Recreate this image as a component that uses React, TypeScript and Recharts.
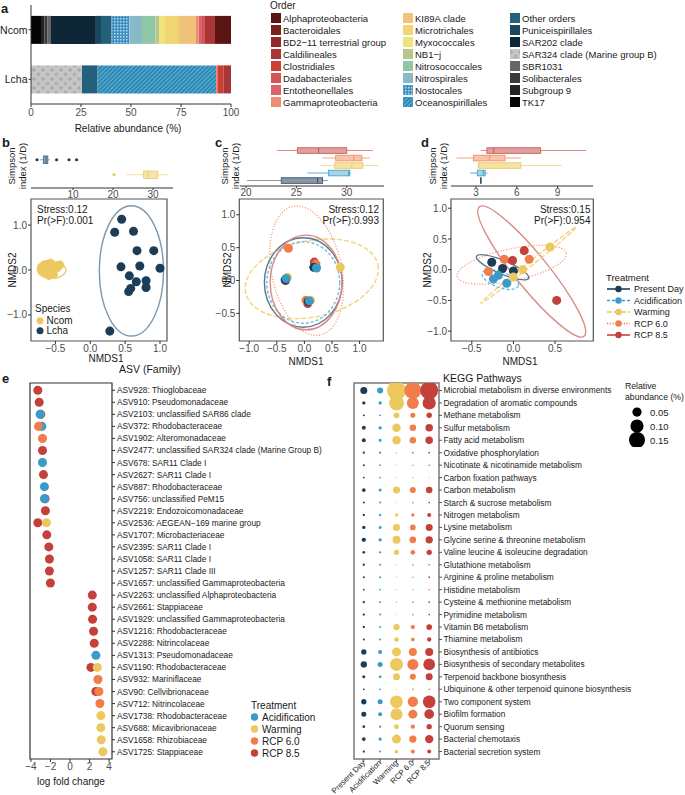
import React from "react";
import {
  Bar, BarChart, ComposedChart, ReferenceArea, Scatter, ScatterChart, XAxis, YAxis, ZAxis,
} from "recharts";

const FONT = '"Liberation Sans", Arial, Helvetica, sans-serif';
const INK = "#1a1a1a";
const TICK_INK = "#4d4d4d";
const AXIS_LINE = "#333333";
const AXIS_TICK = { fontSize: 10, fill: TICK_INK };

// ---------- a: order composition (%), orders in legend (alphabetical) order ----------
const SAMPLES = ["Ncom", "Lcha"];
const ORDERS = [
  "Alphaproteobacteria", "Bacteroidales", "BD2\u221211 terrestrial group", "Caldilineales",
  "Clostridiales", "Dadabacteriales", "Entotheonellales", "Gammaproteobacteria",
  "KI89A clade", "Microtrichales", "Myxococcales", "NB1\u2212j",
  "Nitrosococcales", "Nitrospirales", "Nostocales", "Oceanospirillales",
  "Other orders", "Puniceispirillales", "SAR202 clade", "SAR324 clade (Marine group B)",
  "SBR1031", "Solibacterales", "Subgroup 9", "TK17",
];
const NCOM_PCT = [8, 0, 0, 5, 0, 1.5, 1.7, 1.3, 8.5, 7, 3, 1.8, 6.7, 6.3, 8.9, 0, 5.3, 3, 22, 0, 1.7, 1.6, 1.7, 5];
const LCHA_PCT = [0, 0, 0, 3.8, 3, 0, 0, 0.7, 0, 0, 0, 0, 0, 0, 0, 59.2, 7.8, 0, 0, 25.5, 0, 0, 0, 0];
const ORDER_FILLS = [
  "#5c1515", "#7b1e1e", "#942828", "#a83636", "#cc3e34", "#d55555", "#d8636e", "#ec8e73",
  "#f1c27c", "#f0d572", "#efe47b", "#b7c78c", "#8ec6a6", "#88b9c7", "url(#pat-nostocales)", "url(#pat-oceano)",
  "#22607b", "#1c4660", "#0f2636", "url(#pat-sar324)", "#666666", "#3b3b3b", "#232323", "#050505",
];
const A_TICKS = [0, 25, 50, 75, 100];

// ---------- b/c/d: Simpson index boxplots ----------
type Box = { group: string; min: number; q1: number; median: number; q3: number; max: number; outliers: number[] };
const B_BOXES: Box[] = [
  { group: "Lcha", min: 1.75, q1: 2.6, median: 3.25, q3: 3.7, max: 4.2, outliers: [1.0, 5.9, 9.0, 10.9] },
  { group: "Ncom", min: 23.4, q1: 27.6, median: 28.7, q3: 31.2, max: 33.7, outliers: [20.25] },
];
const C_BOXES: Box[] = [
  { group: "RCP 8.5", min: 23.1, q1: 25.1, median: 27.2, q3: 30.0, max: 32.6, outliers: [] },
  { group: "RCP 6.0", min: 27.6, q1: 28.9, median: 30.7, q3: 31.5, max: 32.3, outliers: [] },
  { group: "Warming", min: 27.4, q1: 28.8, median: 30.5, q3: 31.6, max: 33.1, outliers: [] },
  { group: "Acidification", min: 26.1, q1: 28.2, median: 30.2, q3: 30.3, max: 30.4, outliers: [] },
  { group: "Present Day", min: 20.1, q1: 23.5, median: 27.1, q3: 27.6, max: 28.1, outliers: [] },
];
const D_BOXES: Box[] = [
  { group: "RCP 8.5", min: 3.35, q1: 3.8, median: 4.3, q3: 7.75, max: 11.1, outliers: [] },
  { group: "RCP 6.0", min: 1.56, q1: 2.8, median: 4.0, q3: 5.13, max: 6.3, outliers: [] },
  { group: "Warming", min: 3.17, q1: 3.17, median: 3.2, q3: 6.3, max: 9.3, outliers: [] },
  { group: "Acidification", min: 2.56, q1: 3.1, median: 3.53, q3: 3.67, max: 3.83, outliers: [] },
  { group: "Present Day", min: 3.3, q1: 3.33, median: 3.35, q3: 3.37, max: 3.4, outliers: [] },
];

// ---------- b/c/d: NMDS ordinations ----------
const B_NCOM = [
  { x: -0.7, y: 0.06 }, { x: -0.66, y: 0.11 }, { x: -0.62, y: 0.13 }, { x: -0.6, y: 0.02 }, { x: -0.58, y: -0.04 },
  { x: -0.55, y: 0.09 }, { x: -0.53, y: -0.1 }, { x: -0.57, y: 0.15 }, { x: -0.64, y: -0.05 }, { x: -0.5, y: 0.03 },
  { x: -0.47, y: 0.06 }, { x: -0.68, y: -0.02 }, { x: -0.59, y: -0.12 }, { x: -0.44, y: 0.11 }, { x: -0.62, y: 0.0 },
];
const B_LCHA = [
  { x: 0.45, y: 1.13 }, { x: 0.35, y: 0.84 }, { x: 0.62, y: 0.86 }, { x: 0.67, y: 0.43 }, { x: 0.91, y: 0.43 },
  { x: 0.44, y: 0.07 }, { x: 0.71, y: 0.09 }, { x: 1.0, y: 0.04 }, { x: 0.56, y: -0.13 }, { x: 0.66, y: -0.26 },
  { x: 0.8, y: -0.24 }, { x: 0.58, y: -0.41 }, { x: 0.55, y: -0.48 }, { x: 0.8, y: -0.39 }, { x: 0.28, y: -1.36 },
];
const C_PD = [{ x: -0.35, y: 0.01 }, { x: 0.17, y: 0.2 }, { x: 0.07, y: -0.32 }];
const C_ACID = [{ x: -0.33, y: 0.03 }, { x: 0.22, y: 0.19 }, { x: 0.09, y: -0.31 }];
const C_WARM = [{ x: -0.31, y: 0.05 }, { x: 0.65, y: 0.2 }, { x: 0.11, y: -0.3 }];
const C_RCP60 = [{ x: -0.29, y: 0.49 }, { x: 0.21, y: 0.25 }, { x: 0.03, y: -0.3 }];
const C_RCP85 = [{ x: 0.18, y: 0.28 }, { x: 0.06, y: -0.35 }, { x: -0.34, y: 0.0 }];
const D_PD = [{ x: -0.26, y: 0.12 }, { x: -0.13, y: 0.02 }, { x: 0.0, y: -0.02 }];
const D_ACID = [{ x: -0.24, y: -0.15 }, { x: -0.18, y: -0.09 }, { x: -0.08, y: -0.22 }];
const D_WARM = [{ x: 0.0, y: -0.12 }, { x: 0.11, y: 0.0 }, { x: 0.44, y: 0.37 }];
const D_RCP60 = [{ x: -0.3, y: -0.03 }, { x: -0.11, y: 0.17 }, { x: 0.19, y: 0.17 }];
const D_RCP85 = [{ x: -0.01, y: 0.15 }, { x: 0.13, y: 0.31 }, { x: 0.52, y: -0.5 }];

type Ell = { group: string; cx: number; cy: number; rx: number; ry: number; angle: number };
const B_ELLIPSES: Ell[] = [
  { group: "Ncom", cx: -0.555, cy: 0, rx: 0.205, ry: 0.185, angle: 0 },
  { group: "Lcha", cx: 0.59, cy: -0.02, rx: 0.46, ry: 1.45, angle: 0 },
];
const C_ELLIPSES: Ell[] = [
  { group: "Warming", cx: 0.134, cy: 0.026, rx: 1.225, ry: 0.58, angle: -12 },
  { group: "RCP 6.0", cx: 0.04, cy: 0.15, rx: 0.635, ry: 1.0, angle: -12 },
  { group: "Present Day", cx: -0.02, cy: -0.03, rx: 0.705, ry: 0.68, angle: 0 },
  { group: "Acidification", cx: -0.02, cy: -0.03, rx: 0.66, ry: 0.62, angle: 0 },
  { group: "RCP 8.5", cx: 0.03, cy: -0.03, rx: 0.65, ry: 0.72, angle: 0 },
];
const D_ELLIPSES: Ell[] = [
  { group: "RCP 8.5", cx: 0.22, cy: -0.03, rx: 1.0, ry: 0.27, angle: 51 },
  { group: "RCP 6.0", cx: -0.02, cy: 0.08, rx: 0.67, ry: 0.26, angle: -12 },
  { group: "Warming", cx: 0.18, cy: 0.07, rx: 0.73, ry: 0.035, angle: -38.6 },
  { group: "Present Day", cx: -0.13, cy: 0.04, rx: 0.34, ry: 0.11, angle: 22.7 },
  { group: "Acidification", cx: -0.157, cy: -0.16, rx: 0.23, ry: 0.13, angle: 20 },
];

// ---------- e: differentially abundant ASVs (log fold change) ----------
const E_ASVS = [
  "ASV928: Thioglobaceae", "ASV910: Pseudomonadaceae", "ASV2103: unclassified SAR86 clade",
  "ASV372: Rhodobacteraceae", "ASV1902: Alteromonadaceae",
  "ASV2477: unclassified SAR324 clade (Marine Group B)", "ASV678: SAR11 Clade I",
  "ASV2627: SAR11 Clade I", "ASV887: Rhodobacteraceae", "ASV756: unclassified PeM15",
  "ASV2219: Endozoicomonadaceae", "ASV2536: AEGEAN\u2212169 marine group", "ASV1707: Microbacteriaceae",
  "ASV2395: SAR11 Clade I", "ASV1058: SAR11 Clade I", "ASV1257: SAR11 Clade III",
  "ASV1657: unclassified Gammaproteobacteria", "ASV2263: unclassified Alphaproteobacteria",
  "ASV2661: Stappiaceae", "ASV1929: unclassified Gammaproteobacteria", "ASV1216: Rhodobacteraceae",
  "ASV2288: Nitrincolaceae", "ASV1313: Pseudomonadaceae", "ASV1190: Rhodobacteraceae",
  "ASV932: Mariniflaceae", "ASV90: Cellvibrionaceae", "ASV712: Nitrincolaceae",
  "ASV1738: Rhodobacteraceae", "ASV688: Micavibrionaceae", "ASV1658: Rhizobiaceae", "ASV1725: Stappiaceae",
];
const E_RCP85 = [
  { asv: "ASV928", lfc: -3.3 }, { asv: "ASV910", lfc: -3.16 }, { asv: "ASV2103", lfc: -3.0 },
  { asv: "ASV2477", lfc: -2.82 }, { asv: "ASV2627", lfc: -2.72 }, { asv: "ASV756", lfc: -2.56 },
  { asv: "ASV2219", lfc: -2.52 }, { asv: "ASV2536", lfc: -3.3 }, { asv: "ASV1707", lfc: -2.38 },
  { asv: "ASV2395", lfc: -2.17 }, { asv: "ASV1058", lfc: -2.11 }, { asv: "ASV1257", lfc: -2.11 },
  { asv: "ASV1657", lfc: -2.01 }, { asv: "ASV2263", lfc: 2.28 }, { asv: "ASV2661", lfc: 2.28 },
  { asv: "ASV1929", lfc: 2.31 }, { asv: "ASV1216", lfc: 2.41 }, { asv: "ASV2288", lfc: 2.48 },
  { asv: "ASV1190", lfc: 2.14 }, { asv: "ASV90", lfc: 2.65 },
];
const E_ACID = [
  { asv: "ASV2103", lfc: -3.06 }, { asv: "ASV372", lfc: -2.89 }, { asv: "ASV678", lfc: -2.82 },
  { asv: "ASV887", lfc: -2.62 }, { asv: "ASV756", lfc: -2.62 }, { asv: "ASV1313", lfc: 2.65 },
];
const E_WARM = [
  { asv: "ASV2536", lfc: -2.42 }, { asv: "ASV1190", lfc: 2.79 }, { asv: "ASV1738", lfc: 3.16 },
  { asv: "ASV688", lfc: 3.16 }, { asv: "ASV1658", lfc: 3.2 }, { asv: "ASV1725", lfc: 3.37 },
];
const E_RCP60 = [
  { asv: "ASV372", lfc: -3.23 }, { asv: "ASV1902", lfc: -2.82 }, { asv: "ASV932", lfc: 2.86 },
  { asv: "ASV90", lfc: 2.96 }, { asv: "ASV712", lfc: 3.06 },
];
const E_TICKS = [-4, -2, 0, 2, 4];

// ---------- f: KEGG pathway relative abundance (%) ----------
const TREATMENTS = ["Present Day", "Acidification", "Warming", "RCP 6.0", "RCP 8.5"];
const PATHWAYS = [
  "Microbial metabolism in diverse environments", "Degradation of aromatic compounds", "Methane metabolism",
  "Sulfur metabolism", "Fatty acid metabolism", "Oxidative phosphorylation", "Nicotinate & nicotinamide metabolism",
  "Carbon fixation pathways", "Carbon metabolism", "Starch & sucrose metabolism", "Nitrogen metabolism",
  "Lysine metabolism", "Glycine serine & threonine metabolism", "Valine leucine & isoleucine degradation",
  "Glutathione metabolism", "Arginine & proline metabolism", "Histidine metabolism",
  "Cysteine & methionine metabolism", "Pyrimidine metabolism", "Vitamin B6 metabolism", "Thiamine metabolism",
  "Biosynthesis of antibiotics", "Biosynthesis of secondary metabolites", "Terpenoid backbone biosynthesis",
  "Ubiquinone & other terpenoid quinone biosynthesis", "Two component system", "Biofilm formation",
  "Quorum sensing", "Bacterial chemotaxis", "Bacterial secretion system",
];
const F_PD = [0.029, 0.0064, 0.0023, 0.0093, 0.0093, 0.0031, 0.0023, 0.0017, 0.008, 0.0023, 0.0031, 0.0064, 0.0108, 0.0043, 0.0031, 0.0023, 0.0017, 0.0031, 0.0031, 0.0031, 0.0023, 0.0164, 0.0232, 0.0053, 0.0017, 0.0164, 0.0146, 0.0043, 0.008, 0.0031];
const F_ACID = [0.021, 0.0064, 0.0023, 0.0064, 0.0053, 0.0031, 0.0017, 0.0017, 0.0053, 0.0023, 0.0031, 0.0053, 0.0064, 0.0031, 0.0023, 0.0023, 0.0017, 0.0023, 0.0023, 0.0023, 0.0023, 0.0093, 0.0146, 0.0043, 0.0017, 0.0146, 0.0093, 0.0031, 0.0064, 0.0023];
const F_WARM = [0.211, 0.131, 0.019, 0.0422, 0.0422, 0.0017, 0.001, 0.001, 0.0286, 0.001, 0.0064, 0.0286, 0.0374, 0.0164, 0.001, 0.001, 0.001, 0.0017, 0.001, 0.0232, 0.0129, 0.0473, 0.0987, 0.0286, 0.001, 0.094, 0.084, 0.0146, 0.0473, 0.008];
const F_RCP60 = [0.169, 0.084, 0.0146, 0.0247, 0.0247, 0.0023, 0.0013, 0.001, 0.021, 0.0017, 0.0064, 0.019, 0.0262, 0.0129, 0.0017, 0.0013, 0.001, 0.0017, 0.0017, 0.0108, 0.008, 0.0374, 0.0707, 0.021, 0.0017, 0.062, 0.0473, 0.0108, 0.0311, 0.0093];
const F_RCP85 = [0.189, 0.103, 0.0177, 0.0329, 0.0329, 0.0017, 0.0013, 0.0004, 0.0247, 0.0017, 0.0093, 0.0286, 0.0311, 0.0164, 0.0013, 0.0017, 0.001, 0.0017, 0.0017, 0.019, 0.0108, 0.0374, 0.08, 0.0286, 0.001, 0.094, 0.055, 0.0164, 0.0402, 0.0093];
const SIZE_BREAKS = [0.05, 0.1, 0.15];
const F_Z_DOMAIN = [0, 0.25];
const F_Z_RANGE = [0, 336];

// ---------- styles ----------
const TREAT_COLORS: Record<string, string> = {
  "Present Day": "#1c3d58", Acidification: "#3a9bc9", Warming: "#ecc85e", "RCP 6.0": "#f07d4a", "RCP 8.5": "#c4413b",
  Ncom: "#ecc85e", Lcha: "#1c3d58",
};
const TREAT_DASH: Record<string, string | undefined> = {
  "Present Day": undefined, Acidification: "3 2", Warming: "5 2", "RCP 6.0": "1.2 1.6", "RCP 8.5": undefined,
  Ncom: undefined, Lcha: undefined,
};
const ELLIPSE_STROKE: Record<string, string> = {
  "Present Day": "#5c7890", Acidification: "#72bce0", Warming: "#f2d47c", "RCP 6.0": "#f6a688", "RCP 8.5": "#dc8a86",
  Ncom: "#ebcd6a", Lcha: "#7d97aa",
};
const BOX_STYLE: Record<string, { fill: string; stroke: string; whisker: string }> = {
  Lcha: { fill: "#8ea3b4", stroke: "#516b80", whisker: "#9fb2c0" },
  Ncom: { fill: "#f6e4a8", stroke: "#ecd07a", whisker: "#f3dfa0" },
  "Present Day": { fill: "#8797a7", stroke: "#3e566b", whisker: "#8797a7" },
  Acidification: { fill: "#a7d3e8", stroke: "#48a3cc", whisker: "#62b0d6" },
  Warming: { fill: "#f6e3a4", stroke: "#ebcd6c", whisker: "#f3dd9c" },
  "RCP 6.0": { fill: "#f9c3aa", stroke: "#f29068", whisker: "#f4a486" },
  "RCP 8.5": { fill: "#dea1a0", stroke: "#cc5c58", whisker: "#e38b88" },
};

const fmt1 = (v: number) => (v < 0 ? "\u2212" : "") + Math.abs(v).toFixed(1);
const fmtInt = (v: number) => (v < 0 ? "\u2212" : "") + Math.abs(v);

// plain one-line tick text (the default tick wraps long labels)
const textTick = (label: (v: any) => string, size: number, angle = 0) => (p: any) => {
  const dy = angle ? -1.5 : 0;
  return (
    <text x={p.x} y={p.y + dy} fontSize={size} fill={INK} dominantBaseline="central"
      textAnchor={angle ? "end" : p.textAnchor}
      transform={angle ? `rotate(${angle} ${p.x} ${p.y + dy})` : undefined}>
      {label(p.payload.value)}
    </text>
  );
};

const A_ROWS = SAMPLES.map((s, k) => {
  const vals = k === 0 ? NCOM_PCT : LCHA_PCT;
  const row: Record<string, any> = { sample: s };
  ORDERS.forEach((_, i) => { row[`o${i}`] = vals[i]; });
  return row;
});
// ggplot stacks the last level on the left
const STACK = ORDERS.map((_, i) => i).reverse();

const boxRows = (boxes: Box[]) => boxes.map((b) => ({
  ...b,
  range: [Math.min(b.min, ...b.outliers), Math.max(b.max, ...b.outliers)],
}));

function BoxShape(props: any) {
  const { x, y, width, height, payload } = props;
  const st = BOX_STYLE[payload.group];
  const x0 = Math.min(x, x + width);
  const w = Math.abs(width);
  const [lo, hi] = payload.range;
  const px = (v: number) => x0 + ((v - lo) / (hi - lo)) * w;
  const cy = y + height / 2;
  return (
    <g>
      <line x1={px(payload.min)} x2={px(payload.max)} y1={cy} y2={cy} stroke={st.whisker} strokeWidth={1.1} />
      <rect x={px(payload.q1)} y={y} width={Math.max(px(payload.q3) - px(payload.q1), 0.6)} height={height}
        fill={st.fill} stroke={st.stroke} strokeWidth={0.9} />
      <line x1={px(payload.median)} x2={px(payload.median)} y1={y} y2={y + height} stroke={st.stroke} strokeWidth={1.1} />
      {payload.outliers.map((v: number, i: number) => (
        <circle key={i} cx={px(v)} cy={cy} r={1.6} fill={TREAT_COLORS[payload.group]} />
      ))}
    </g>
  );
}

function BoxPanel({ left, top, width, height, margin, boxes, domain, ticks, barSize, pad }: any) {
  return (
    <div style={{ position: "absolute", left, top }}>
      <ComposedChart width={width} height={height} layout="vertical" data={boxRows(boxes)} margin={margin}>
        <XAxis type="number" domain={domain} ticks={ticks} allowDataOverflow height={14} tick={AXIS_TICK}
          tickSize={2} tickMargin={1} stroke={AXIS_LINE} />
        <YAxis type="category" dataKey="group" width={0} tick={false} tickLine={false} stroke={AXIS_LINE}
          padding={{ top: pad, bottom: pad }} />
        <Bar dataKey="range" barSize={barSize} shape={BoxShape} isAnimationActive={false} />
      </ComposedChart>
    </div>
  );
}

const ellipseShape = (e: Ell) => (p: any) => {
  const w = Math.abs(p.width);
  const h = Math.abs(p.height);
  const cx = Math.min(p.x, p.x + p.width) + w / 2;
  const cy = Math.min(p.y, p.y + p.height) + h / 2;
  return (
    <ellipse cx={cx} cy={cy} rx={w / 2} ry={h / 2} transform={`rotate(${e.angle} ${cx} ${cy})`} fill="none"
      stroke={ELLIPSE_STROKE[e.group]} strokeWidth={1.4} strokeDasharray={TREAT_DASH[e.group]} />
  );
};

function NmdsPanel({ left, top, width, margin, yWidth, xDomain, yDomain, xTicks, yTicks, dotArea, ellipses, series }: any) {
  return (
    <div style={{ position: "absolute", left, top }}>
      <ScatterChart width={width} height={165} margin={margin}>
        <XAxis type="number" dataKey="x" domain={xDomain} ticks={xTicks} allowDataOverflow tickFormatter={fmt1}
          height={14} tick={AXIS_TICK} tickSize={3} tickMargin={1} axisLine={false} stroke={AXIS_LINE} />
        <YAxis type="number" dataKey="y" domain={yDomain} ticks={yTicks} allowDataOverflow tickFormatter={fmt1}
          width={yWidth} tick={AXIS_TICK} tickSize={3} tickMargin={1} axisLine={false} stroke={AXIS_LINE} />
        <ZAxis range={[dotArea, dotArea]} />
        <ReferenceArea x1={xDomain[0]} x2={xDomain[1]} y1={yDomain[0]} y2={yDomain[1]} ifOverflow="visible"
          fill="none" stroke="#555555" strokeWidth={1.2} />
        {ellipses.map((e: Ell, i: number) => (
          <ReferenceArea key={i} x1={e.cx - e.rx} x2={e.cx + e.rx} y1={e.cy - e.ry} y2={e.cy + e.ry}
            ifOverflow="visible" shape={ellipseShape(e)} />
        ))}
        {series.map((s: any) => (
          <Scatter key={s.name} name={s.name} data={s.data} fill={TREAT_COLORS[s.name]} isAnimationActive={false} />
        ))}
      </ScatterChart>
    </div>
  );
}

const asvIndex = (asv: string) => E_ASVS.findIndex((s) => s.startsWith(asv + ":"));
const E_SERIES = [
  { name: "RCP 8.5", pts: E_RCP85 }, { name: "Acidification", pts: E_ACID },
  { name: "Warming", pts: E_WARM }, { name: "RCP 6.0", pts: E_RCP60 },
];
const F_VALUES = [F_PD, F_ACID, F_WARM, F_RCP60, F_RCP85];

function Label({ x, y, children, size = 10, anchor = "start", rotate = 0, bold = false }: any) {
  return (
    <text x={x} y={y} fontSize={size} textAnchor={anchor} dominantBaseline="central" fill={INK}
      fontWeight={bold ? 700 : 400} transform={rotate ? `rotate(${rotate} ${x} ${y})` : undefined}>
      {children}
    </text>
  );
}

function Overlay() {
  const legendCols = [271, 403, 510];
  return (
    <svg width={685} height={795} style={{ position: "absolute", left: 0, top: 0, pointerEvents: "none" }}
      fontFamily={FONT}>
      <defs>
        <pattern id="pat-nostocales" width="3" height="3" patternUnits="userSpaceOnUse">
          <rect width="3" height="3" fill="#3f8fc0" />
          <rect width="1.5" height="1.5" fill="#b4dcf0" />
        </pattern>
        <pattern id="pat-oceano" width="3" height="3" patternUnits="userSpaceOnUse" patternTransform="rotate(45)">
          <rect width="3" height="3" fill="#2c86b2" />
          <rect width="1" height="3" fill="#63b3d6" />
        </pattern>
        <pattern id="pat-sar324" width="9" height="9" patternUnits="userSpaceOnUse">
          <rect width="9" height="9" fill="#c6c6c6" />
          <circle cx="2.5" cy="2.5" r="1.3" fill="none" stroke="#888888" strokeWidth="0.6" />
          <circle cx="7" cy="7" r="1.3" fill="none" stroke="#888888" strokeWidth="0.6" />
        </pattern>
      </defs>

      {/* panel letters */}
      <Label x={1} y={8} size={13} bold>a</Label>
      <Label x={2} y={142} size={13} bold>b</Label>
      <Label x={215} y={142} size={13} bold>c</Label>
      <Label x={421} y={142} size={13} bold>d</Label>
      <Label x={2} y={378} size={13} bold>e</Label>
      <Label x={327} y={381} size={13} bold>f</Label>

      {/* a */}
      <Label x={128} y={128} anchor="middle">Relative abundance (%)</Label>
      <Label x={270} y={5}>Order</Label>
      {ORDERS.map((o, i) => {
        const sx = legendCols[Math.floor(i / 8)];
        const cy = 18 + (i % 8) * 12;
        return (
          <g key={o}>
            <rect x={sx} y={cy - 5} width={10} height={10} fill={ORDER_FILLS[i]} />
            <Label x={sx + 12} y={cy} size={9.5}>{o}</Label>
          </g>
        );
      })}

      {/* simpson titles */}
      {[[11, 22], [224, 235], [432, 443]].map(([x1, x2], i) => (
        <g key={i}>
          <Label x={x1} y={166} size={9.5} anchor="middle" rotate={-90}>Simpson</Label>
          <Label x={x2} y={166} size={9.5} anchor="middle" rotate={-90}>index (1/D)</Label>
        </g>
      ))}
      {[12, 227, 427].map((x) => (
        <Label key={x} x={x} y={270} anchor="middle" rotate={-90}>NMDS2</Label>
      ))}
      <Label x={106} y={358} anchor="middle">NMDS1</Label>
      <Label x={306} y={361} anchor="middle">NMDS1</Label>
      <Label x={520} y={361} anchor="middle">NMDS1</Label>

      <Label x={37} y={209}>Stress:0.12</Label>
      <Label x={37} y={220}>Pr(&gt;F):0.001</Label>
      <Label x={379} y={209} anchor="end">Stress:0.12</Label>
      <Label x={379} y={220} anchor="end">Pr(&gt;F):0.993</Label>
      <Label x={590.5} y={209} anchor="end">Stress:0.15</Label>
      <Label x={590.5} y={220} anchor="end">Pr(&gt;F):0.954</Label>

      {/* b species legend */}
      <Label x={35} y={308}>Species</Label>
      {SAMPLES.map((s, i) => (
        <g key={s}>
          <circle cx={40} cy={320.7 + i * 10} r={3.5} fill={TREAT_COLORS[s]} />
          <Label x={46.5} y={320.7 + i * 10}>{s}</Label>
        </g>
      ))}

      {/* d treatment legend */}
      <Label x={606} y={277} size={9.5}>Treatment</Label>
      {TREATMENTS.map((t, i) => {
        const cy = 289 + i * 11.5;
        return (
          <g key={t}>
            <line x1={607} x2={630} y1={cy} y2={cy} stroke={TREAT_COLORS[t]} strokeWidth={1.6}
              strokeDasharray={TREAT_DASH[t]} />
            <circle cx={618.5} cy={cy} r={3.2} fill={TREAT_COLORS[t]} />
            <Label x={634} y={cy} size={9}>{t}</Label>
          </g>
        );
      })}

      {/* e */}
      <Label x={119} y={369} size={10.5}>ASV (Family)</Label>
      <Label x={251} y={705}>Treatment</Label>
      {["Acidification", "Warming", "RCP 6.0", "RCP 8.5"].map((t, i) => {
        const cy = 717 + i * 12;
        return (
          <g key={t}>
            <circle cx={254.5} cy={cy} r={3.7} fill={TREAT_COLORS[t]} />
            <Label x={262} y={cy}>{t}</Label>
          </g>
        );
      })}

      {/* f */}
      <Label x={443} y={378} size={10.5}>KEGG Pathways</Label>
      <Label x={625} y={386} size={8.7}>Relative</Label>
      <Label x={625} y={396.5} size={8.7}>abundance (%)</Label>
    </svg>
  );
}

export default function App() {
  return (
    <div style={{ position: "absolute", left: 0, top: 0, width: 685, height: 795, background: "#fff", fontFamily: FONT }}>
      {/* a */}
      <div style={{ position: "absolute", left: 0, top: 0 }}>
        <BarChart width={240} height={135} layout="vertical" data={A_ROWS} barCategoryGap="22%"
          margin={{ top: 5, right: 9, bottom: 0, left: 0 }}>
          <XAxis type="number" domain={[0, 100]} ticks={A_TICKS} height={31} tick={AXIS_TICK} tickSize={3}
            tickMargin={2} stroke={AXIS_LINE} />
          <YAxis type="category" dataKey="sample" width={31} tickSize={2.5} tickMargin={1}
            tick={textTick((v) => v, 10.5)} stroke={AXIS_LINE} />
          {STACK.map((i) => (
            <Bar key={i} dataKey={`o${i}`} name={ORDERS[i]} stackId="a" fill={ORDER_FILLS[i]} isAnimationActive={false} />
          ))}
        </BarChart>
      </div>

      {/* b/c/d boxplots */}
      <BoxPanel left={0} top={140} width={176} height={62} margin={{ top: 6, right: 3, bottom: 0, left: 31 }}
        boxes={B_BOXES} domain={[-0.5, 35]} ticks={[10, 20, 30]} barSize={7.5} pad={6} />
      <BoxPanel left={225} top={139} width={161} height={61} margin={{ top: 6, right: 2, bottom: 0, left: 15 }}
        boxes={C_BOXES} domain={[19.4, 33.7]} ticks={[20, 25, 30]} barSize={5.6} pad={1.75} />
      <BoxPanel left={440} top={139} width={155} height={61} margin={{ top: 6, right: 2, bottom: 0, left: 11 }}
        boxes={D_BOXES} domain={[1.16, 11.6]} ticks={[3, 6, 9]} barSize={5.6} pad={1.75} />

      {/* b/c/d NMDS */}
      <NmdsPanel left={0} top={190} width={170} margin={{ top: 9, right: 3, bottom: 0, left: 4 }} yWidth={27}
        xDomain={[-0.85, 1.1]} yDomain={[-1.58, 1.58]} xTicks={[-0.5, 0, 0.5, 1]} yTicks={[-1, 0, 1]} dotArea={28}
        ellipses={B_ELLIPSES} series={[{ name: "Ncom", data: B_NCOM }, { name: "Lcha", data: B_LCHA }]} />
      <NmdsPanel left={205} top={190} width={180} margin={{ top: 9, right: 1.7, bottom: 0, left: 4.3 }} yWidth={30}
        xDomain={[-1.18, 1.43]} yDomain={[-0.92, 1.24]} xTicks={[-1, -0.5, 0, 0.5, 1]} yTicks={[-0.5, 0, 0.5, 1]}
        dotArea={32} ellipses={C_ELLIPSES}
        series={[
          { name: "RCP 8.5", data: C_RCP85 }, { name: "RCP 6.0", data: C_RCP60 }, { name: "Present Day", data: C_PD },
          { name: "Warming", data: C_WARM }, { name: "Acidification", data: C_ACID },
        ]} />
      <NmdsPanel left={415} top={190} width={180} margin={{ top: 9, right: 1.7, bottom: 0, left: 6 }} yWidth={30}
        xDomain={[-0.75, 0.96]} yDomain={[-1.16, 1.15]} xTicks={[-0.5, 0, 0.5]} yTicks={[-1, -0.5, 0, 0.5, 1]}
        dotArea={26} ellipses={D_ELLIPSES}
        series={[
          { name: "Present Day", data: D_PD }, { name: "Acidification", data: D_ACID }, { name: "Warming", data: D_WARM },
          { name: "RCP 6.0", data: D_RCP60 }, { name: "RCP 8.5", data: D_RCP85 },
        ]} />

      {/* e */}
      <div style={{ position: "absolute", left: 0, top: 370 }}>
        <ScatterChart width={330} height={425} margin={{ top: 13, right: 0, bottom: 0, left: 30 }}>
          <XAxis type="number" dataKey="x" domain={[-4.1, 4.3]} ticks={E_TICKS} allowDataOverflow tickFormatter={fmtInt}
            height={36} tick={AXIS_TICK} tickSize={3} tickMargin={1} axisLine={false} stroke={AXIS_LINE}
            label={{ value: "log fold change", position: "insideBottom", offset: 10, fill: INK, fontSize: 10 }} />
          <YAxis type="number" dataKey="y" orientation="right" reversed domain={[-0.6, 30.6]}
            ticks={E_ASVS.map((_, i) => i)} interval={0} allowDataOverflow
            width={218} tick={textTick((i) => E_ASVS[i], 8.3)} tickSize={3} tickMargin={2} axisLine={false}
            stroke={AXIS_LINE} />
          <ZAxis range={[50, 50]} />
          <ReferenceArea x1={-4.1} x2={4.3} y1={-0.6} y2={30.6} ifOverflow="visible" fill="none" stroke="#333333"
            strokeWidth={1.2} />
          {E_SERIES.map((s) => (
            <Scatter key={s.name} name={s.name} data={s.pts.map((p) => ({ x: p.lfc, y: asvIndex(p.asv) }))}
              fill={TREAT_COLORS[s.name]} isAnimationActive={false} />
          ))}
        </ScatterChart>
      </div>

      {/* f */}
      <div style={{ position: "absolute", left: 300, top: 370 }}>
        <ScatterChart width={385} height={425} margin={{ top: 13, right: 0, bottom: 0, left: 54 }}>
          <XAxis type="number" dataKey="x" domain={[-0.6, 4.6]} ticks={[0, 1, 2, 3, 4]} interval={0} allowDataOverflow
            height={36} tick={textTick((i) => TREATMENTS[i], 7.9, -45)} tickSize={3} tickMargin={1}
            axisLine={false} stroke="#555555" />
          <YAxis type="number" dataKey="y" orientation="right" reversed domain={[-0.6, 29.6]}
            ticks={PATHWAYS.map((_, i) => i)} interval={0} allowDataOverflow
            width={246} tick={textTick((i) => PATHWAYS[i], 8.3)} tickSize={3} tickMargin={1.5} axisLine={false}
            stroke="#555555" />
          <ZAxis type="number" dataKey="z" domain={F_Z_DOMAIN} range={F_Z_RANGE} />
          <ReferenceArea x1={-0.6} x2={4.6} y1={-0.6} y2={29.6} ifOverflow="visible" fill="none" stroke="#7a7a7a"
            strokeWidth={1.5} />
          {TREATMENTS.map((t, j) => (
            <Scatter key={t} name={t} data={F_VALUES[j].map((v, i) => ({ x: j, y: i, z: v }))}
              fill={TREAT_COLORS[t]} isAnimationActive={false} />
          ))}
        </ScatterChart>
      </div>

      {/* f size legend */}
      <div style={{ position: "absolute", left: 626, top: 405 }}>
        <ScatterChart width={59} height={42} margin={{ top: 0, right: 0, bottom: 0, left: 0 }}>
          <XAxis type="number" dataKey="x" domain={[0, 1]} hide />
          <YAxis type="number" dataKey="y" orientation="right" reversed domain={[-0.5, 2.5]} ticks={[0, 1, 2]}
            interval={0} width={37} axisLine={false} tickLine={false} tickSize={0} tickMargin={2}
            tick={textTick((i) => SIZE_BREAKS[i].toFixed(2), 9.5)} />
          <ZAxis type="number" dataKey="z" domain={F_Z_DOMAIN} range={F_Z_RANGE} />
          <Scatter data={SIZE_BREAKS.map((v, i) => ({ x: 0.5, y: i, z: v }))} fill="#000000" isAnimationActive={false} />
        </ScatterChart>
      </div>

      <Overlay />
    </div>
  );
}
